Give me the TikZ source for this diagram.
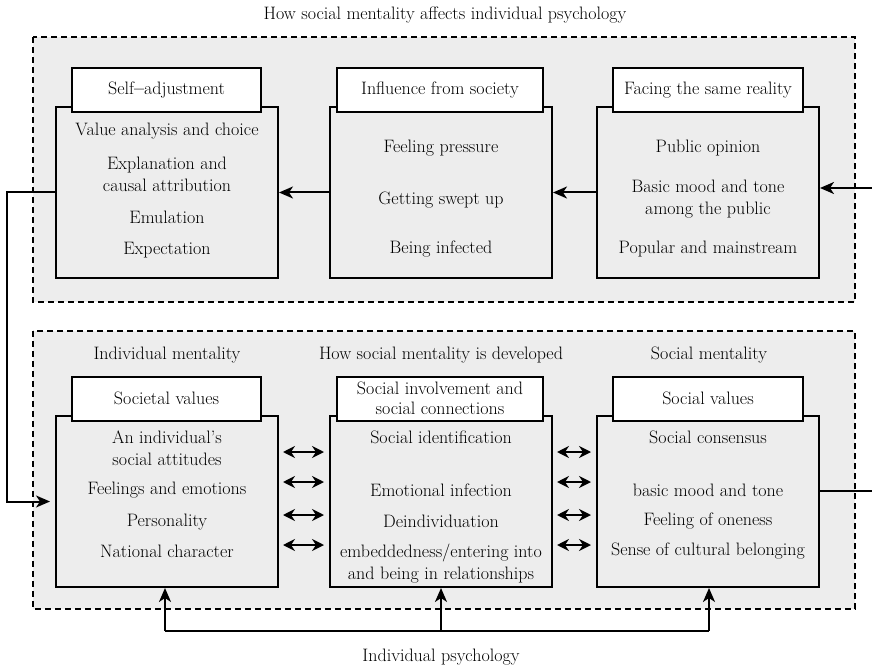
\documentclass[tikz,border=0pt]{standalone}
\usetikzlibrary{arrows.meta}
\definecolor{panelgray}{HTML}{EDEDED}
\begin{document}
\begin{tikzpicture}[x=1pt,y=-1pt,
  every node/.style={font=\fontsize{18}{22.5}\selectfont},
  panel/.style={draw,dashed,dash pattern=on 6pt off 4pt,line width=1.6pt,fill=panelgray},
  mainbox/.style={draw,line width=2pt,fill=panelgray,minimum width=222pt,minimum height=171pt,inner sep=0pt},
  headbox/.style={draw,line width=2pt,fill=white,minimum height=44pt,inner sep=0pt,align=center},
  txt/.style={inner sep=0pt,align=center},
  arr/.style={line width=2pt,-{Stealth[length=14pt,width=12pt,inset=4pt]}},
  darr/.style={line width=2pt,{Stealth[length=12pt,width=12pt,inset=4pt]}-{Stealth[length=12pt,width=12pt,inset=4pt]}},
  conn/.style={line width=2pt}]
\useasboundingbox (0,0) rectangle (872,668);
% title
\node[txt] (title) at (445,15) {How social mentality affects individual psychology};
% panels
\draw[panel] (33,37) rectangle (855,302);
\draw[panel] (33,331) rectangle (855,609);
% top boxes
\node[mainbox] (tl) at (167,192.5) {};
\node[mainbox] (tm) at (441,192.5) {};
\node[mainbox] (tr) at (708,192.5) {};
\node[headbox,minimum width=189pt] (tlh) at (166.5,90) {Self{\bfseries--}adjustment};
\node[headbox,minimum width=206pt] (tmh) at (440,90) {Influence from society};
\node[headbox,minimum width=190pt] (trh) at (708,90) {Facing the same reality};
% top texts
\node[txt] (t1a) at (167,131) {Value analysis and choice};
\node[txt] (t1b) at (167,174.5) {Explanation and\\causal attribution};
\node[txt] (t1c) at (167,217) {Emulation};
\node[txt] (t1d) at (167,250) {Expectation};
\node[txt] (t2a) at (441,148) {Feeling pressure};
\node[txt] (t2b) at (441,200) {Getting swept up};
\node[txt] (t2c) at (441,249) {Being infected};
\node[txt] (t3a) at (708,148) {Public opinion};
\node[txt] (t3b) at (708,199) {Basic mood and tone\\among the public};
\node[txt] (t3c) at (708,249) {Popular and mainstream};
% bottom labels
\node[txt] (l1) at (167,355) {Individual mentality};
\node[txt] (l2) at (441,355) {How social mentality is developed};
\node[txt] (l3) at (709,355) {Social mentality};
% bottom boxes
\node[mainbox] (bl) at (167,501.5) {};
\node[mainbox] (bm) at (441,501.5) {};
\node[mainbox] (br) at (708,501.5) {};
\node[headbox,minimum width=189pt] (blh) at (166.5,398.5) {Societal values};
\node[headbox,minimum width=206pt,font=\fontsize{18}{20}\selectfont] (bmh) at (440,398.5) {Social involvement and\\social connections};
\node[headbox,minimum width=190pt] (brh) at (708,398.5) {Social values};
% bottom texts
\node[txt] (b1a) at (167,448) {An individual’s\\social attitudes};
\node[txt] (b1b) at (167,490) {Feelings and emotions};
\node[txt] (b1c) at (167,522) {Personality};
\node[txt] (b1d) at (167,551) {National character};
\node[txt] (b2a) at (441,437) {Social identification};
\node[txt] (b2b) at (441,490) {Emotional infection};
\node[txt] (b2c) at (441,521) {Deindividuation};
\node[txt] (b2d) at (441,563.5) {embeddedness/entering into\\and being in relationships};
\node[txt] (b3a) at (708,437) {Social consensus};
\node[txt] (b3b) at (708,490) {basic mood and tone};
\node[txt] (b3c) at (708,521) {Feeling of oneness};
\node[txt] (b3d) at (708,551) {Sense of cultural belonging};
% top arrows
\draw[arr] (tm.west) -- (tl.east);
\draw[arr] (tr.west) -- (tm.east);
\coordinate (rin) at (872,188);
\draw[arr] (rin) -- (tr.east |- rin);
\coordinate (rout) at (872,491);
\draw[conn] (br.east |- rout) -- (rout);
% left feedback connector
\coordinate (lx) at (7,0);
\draw[arr,shorten >=5pt] (tl.west) -| (lx |- bl.west) -- (bl.west);
% double arrows
\foreach \yy/\nm in {452/a,482/b,515/c,545/d}{
  \coordinate (da\nm) at (0,\yy);
  \draw[darr,shorten <=4pt,shorten >=5pt] (bl.east |- da\nm) -- (bm.west |- da\nm);
  \draw[darr,shorten <=4pt,shorten >=5pt] (bm.east |- da\nm) -- (br.west |- da\nm);
}
% bottom connectors
\coordinate (j1) at (165,631);
\coordinate (j2) at (441,631);
\coordinate (j3) at (709,631);
\draw[conn] (j1) -- (j3);
\draw[arr] (j1) -- (j1 |- bl.south);
\draw[arr] (j2) -- (j2 |- bm.south);
\draw[arr] (j3) -- (j3 |- br.south);
\node[txt] (ip) at (441,657) {Individual psychology};
\end{tikzpicture}
\end{document}
